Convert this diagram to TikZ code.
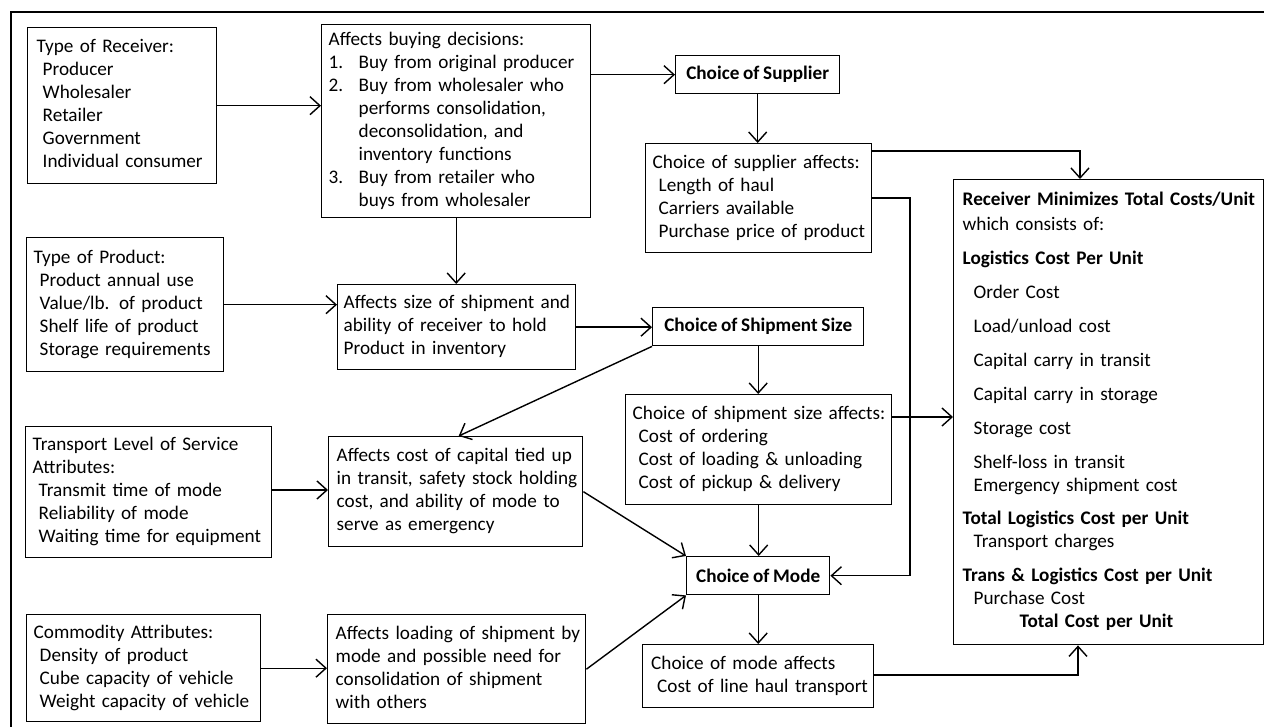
\documentclass[tikz,border=0pt]{standalone}
\usepackage{fontspec}
\setmainfont{Carlito}[WordSpace=0.85]
\usetikzlibrary{arrows.meta,calc}
\newcommand\myind{\hspace*{3pt}}
\newcommand\mylines[1]{\begin{tabular}{@{}l@{}}#1\end{tabular}}
\begin{document}
\begin{tikzpicture}[x=0.5pt,y=-0.5pt,
  every node/.style={font=\fontsize{9.6}{11.5}\selectfont},
  box/.style={draw, line width=0.7pt, anchor=north west, align=left, inner xsep=3.5pt, inner ysep=0pt},
  cbox/.style={draw, line width=0.7pt, anchor=north west, align=center, inner sep=0pt, font=\fontsize{9.6}{11.5}\selectfont\bfseries},
  arr/.style={-{Straight Barb[length=5pt,width=9pt]}, line width=0.7pt}]
\useasboundingbox (0,0) rectangle (1264,727);
% outer frame
\draw[line width=1.2pt] (11,727) -- (11,12) -- (1264,12);

% nodes
\node[box, minimum width=92.5pt, minimum height=78pt, text width=85.5pt, inner xsep=4.5pt] (recv) at (27,27)
 {\mylines{Type of Receiver:\\ \myind Producer\\ \myind Wholesaler\\ \myind Retailer\\ \myind Government\\ \myind Individual consumer}};
\node[box, minimum width=134.5pt, minimum height=96.5pt, text width=127.5pt] (buy) at (321,24)
 {\raisebox{-2.5pt}{\mylines{Affects buying decisions:\\
  \makebox[15pt][l]{1.}Buy from original producer\\
  \makebox[15pt][l]{2.}Buy from wholesaler who\\
  \hspace*{15pt}performs consolidation,\\
  \hspace*{15pt}deconsolidation, and\\
  \hspace*{15pt}inventory functions\\
  \makebox[15pt][l]{3.}Buy from retailer who\\
  \hspace*{15pt}buys from wholesaler}}};
\node[cbox, minimum width=82pt, minimum height=19pt] (supp) at (675,55) {Choice of Supplier};
\node[box, minimum width=113pt, minimum height=54.5pt, text width=106pt] (suppaff) at (645,143)
 {\mylines{Choice of supplier affects:\\ \myind Length of haul\\ \myind Carriers available\\ \myind Purchase price of product}};
\node[box, minimum width=155pt, minimum height=232.5pt, text width=146pt, inner xsep=4.5pt] (tot) at (953,179)
 {\mylines{\textbf{Receiver Minimizes Total Costs/Unit}\\[1pt]
  which consists of:\\[5.5pt]
  \textbf{Logistics Cost Per Unit}\\[5.5pt]
  \hspace*{5.5pt}Order Cost\\[5.5pt]
  \hspace*{5.5pt}Load/unload cost\\[5.5pt]
  \hspace*{5.5pt}Capital carry in transit\\[5.5pt]
  \hspace*{5.5pt}Capital carry in storage\\[5.5pt]
  \hspace*{5.5pt}Storage cost\\[5.5pt]
  \hspace*{5.5pt}Shelf-loss in transit\\
  \hspace*{5.5pt}Emergency shipment cost\\[5pt]
  \textbf{Total Logistics Cost per Unit}\\
  \hspace*{5.5pt}Transport charges\\[5.5pt]
  \textbf{Trans \& Logistics Cost per Unit}\\
  \hspace*{5.5pt}Purchase Cost\\
  \hspace*{28.5pt}\textbf{Total Cost per Unit}}};
\node[box, minimum width=98.5pt, minimum height=67pt, text width=91.5pt] (prod) at (26,237)
 {\mylines{Type of Product:\\ \myind Product annual use\\ \myind Value/lb. of product\\ \myind Shelf life of product\\ \myind Storage requirements}};
\node[box, minimum width=119pt, minimum height=42.5pt, text width=113pt, inner xsep=2pt] (size) at (337,284)
 {\mylines{Affects size of shipment and\\ ability of receiver to hold\\ Product in inventory}};
\node[cbox, minimum width=105.5pt, minimum height=19pt] (shipsz) at (652,307) {Choice of Shipment Size};
\node[box, minimum width=133pt, minimum height=55pt, text width=126pt] (shipaff) at (625,394)
 {\mylines{Choice of shipment size affects:\\ \myind Cost of ordering\\ \myind Cost of loading \& unloading\\ \myind Cost of pickup \& delivery}};
\node[box, minimum width=123pt, minimum height=65.5pt, text width=116pt] (svc) at (25,426)
 {\mylines{Transport Level of Service\\ Attributes:\\ \myind Transmit time of mode\\ \myind Reliability of mode\\ \myind Waiting time for equipment}};
\node[box, minimum width=127pt, minimum height=55pt, text width=119pt, inner xsep=4pt] (cap) at (328,436)
 {\mylines{Affects cost of capital tied up\\ in transit, safety stock holding\\ cost, and ability of mode to\\ serve as emergency}};
\node[cbox, minimum width=71.5pt, minimum height=19pt] (mode) at (686,556) {Choice of Mode};
\node[box, minimum width=117pt, minimum height=53.5pt, text width=110pt] (comm) at (26,614)
 {\mylines{Commodity Attributes:\\ \myind Density of product\\ \myind Cube capacity of vehicle\\ \myind Weight capacity of vehicle}};
\node[box, minimum width=129pt, minimum height=54.5pt, text width=121pt, inner xsep=4pt] (load) at (327,614)
 {\mylines{Affects loading of shipment by\\ mode and possible need for\\ consolidation of shipment\\ with others}};
\node[box, minimum width=115.5pt, minimum height=31.5pt, text width=107pt, inner xsep=4.25pt] (modeaff) at (642,644)
 {\mylines{Choice of mode affects\\ \myind Cost of line haul transport}};

% helper coordinates
\coordinate (bus) at (910,198);
\coordinate (c1) at (1080,151);
\coordinate (c2) at (1078,675);

% connectors
\draw[arr] (recv.east) -- (recv.east -| buy.west);
\draw[arr] (buy.east |- supp.west) -- (supp.west);
\draw[arr] (supp.south) -- (supp.south |- suppaff.north);
\draw[arr] (suppaff.east |- c1) -| (c1 |- tot.north);
\draw[arr] (suppaff.east |- bus) -| (bus |- mode.east) -- (mode.east);
\draw[arr] (buy.south) -- (buy.south |- size.north);
\draw[arr] (prod.east) -- (prod.east -| size.west);
\draw[arr] (size.east) -- (size.east -| shipsz.west);
\draw[arr] (shipsz.south) -- (shipsz.south |- shipaff.north);
\draw[arr] (shipsz.south west) -- ([xshift=1.5pt]cap.north);
\draw[arr] (shipaff.east |- 0,417) -- (tot.west |- 0,417);
\draw[arr] (svc.east |- 0,490) -- (cap.west |- 0,490);
\draw[arr] (shipaff.south) -- (shipaff.south |- mode.north);
\draw[arr] (cap.east) -- (mode.north west);
\draw[arr] (comm.east) -- (comm.east -| load.west);
\draw[arr] (load.east) -- (mode.south west);
\draw[arr] (mode.south) -- (mode.south |- modeaff.north);
\draw[arr] (modeaff.east |- c2) -| (c2 |- tot.south);
\end{tikzpicture}
\end{document}
